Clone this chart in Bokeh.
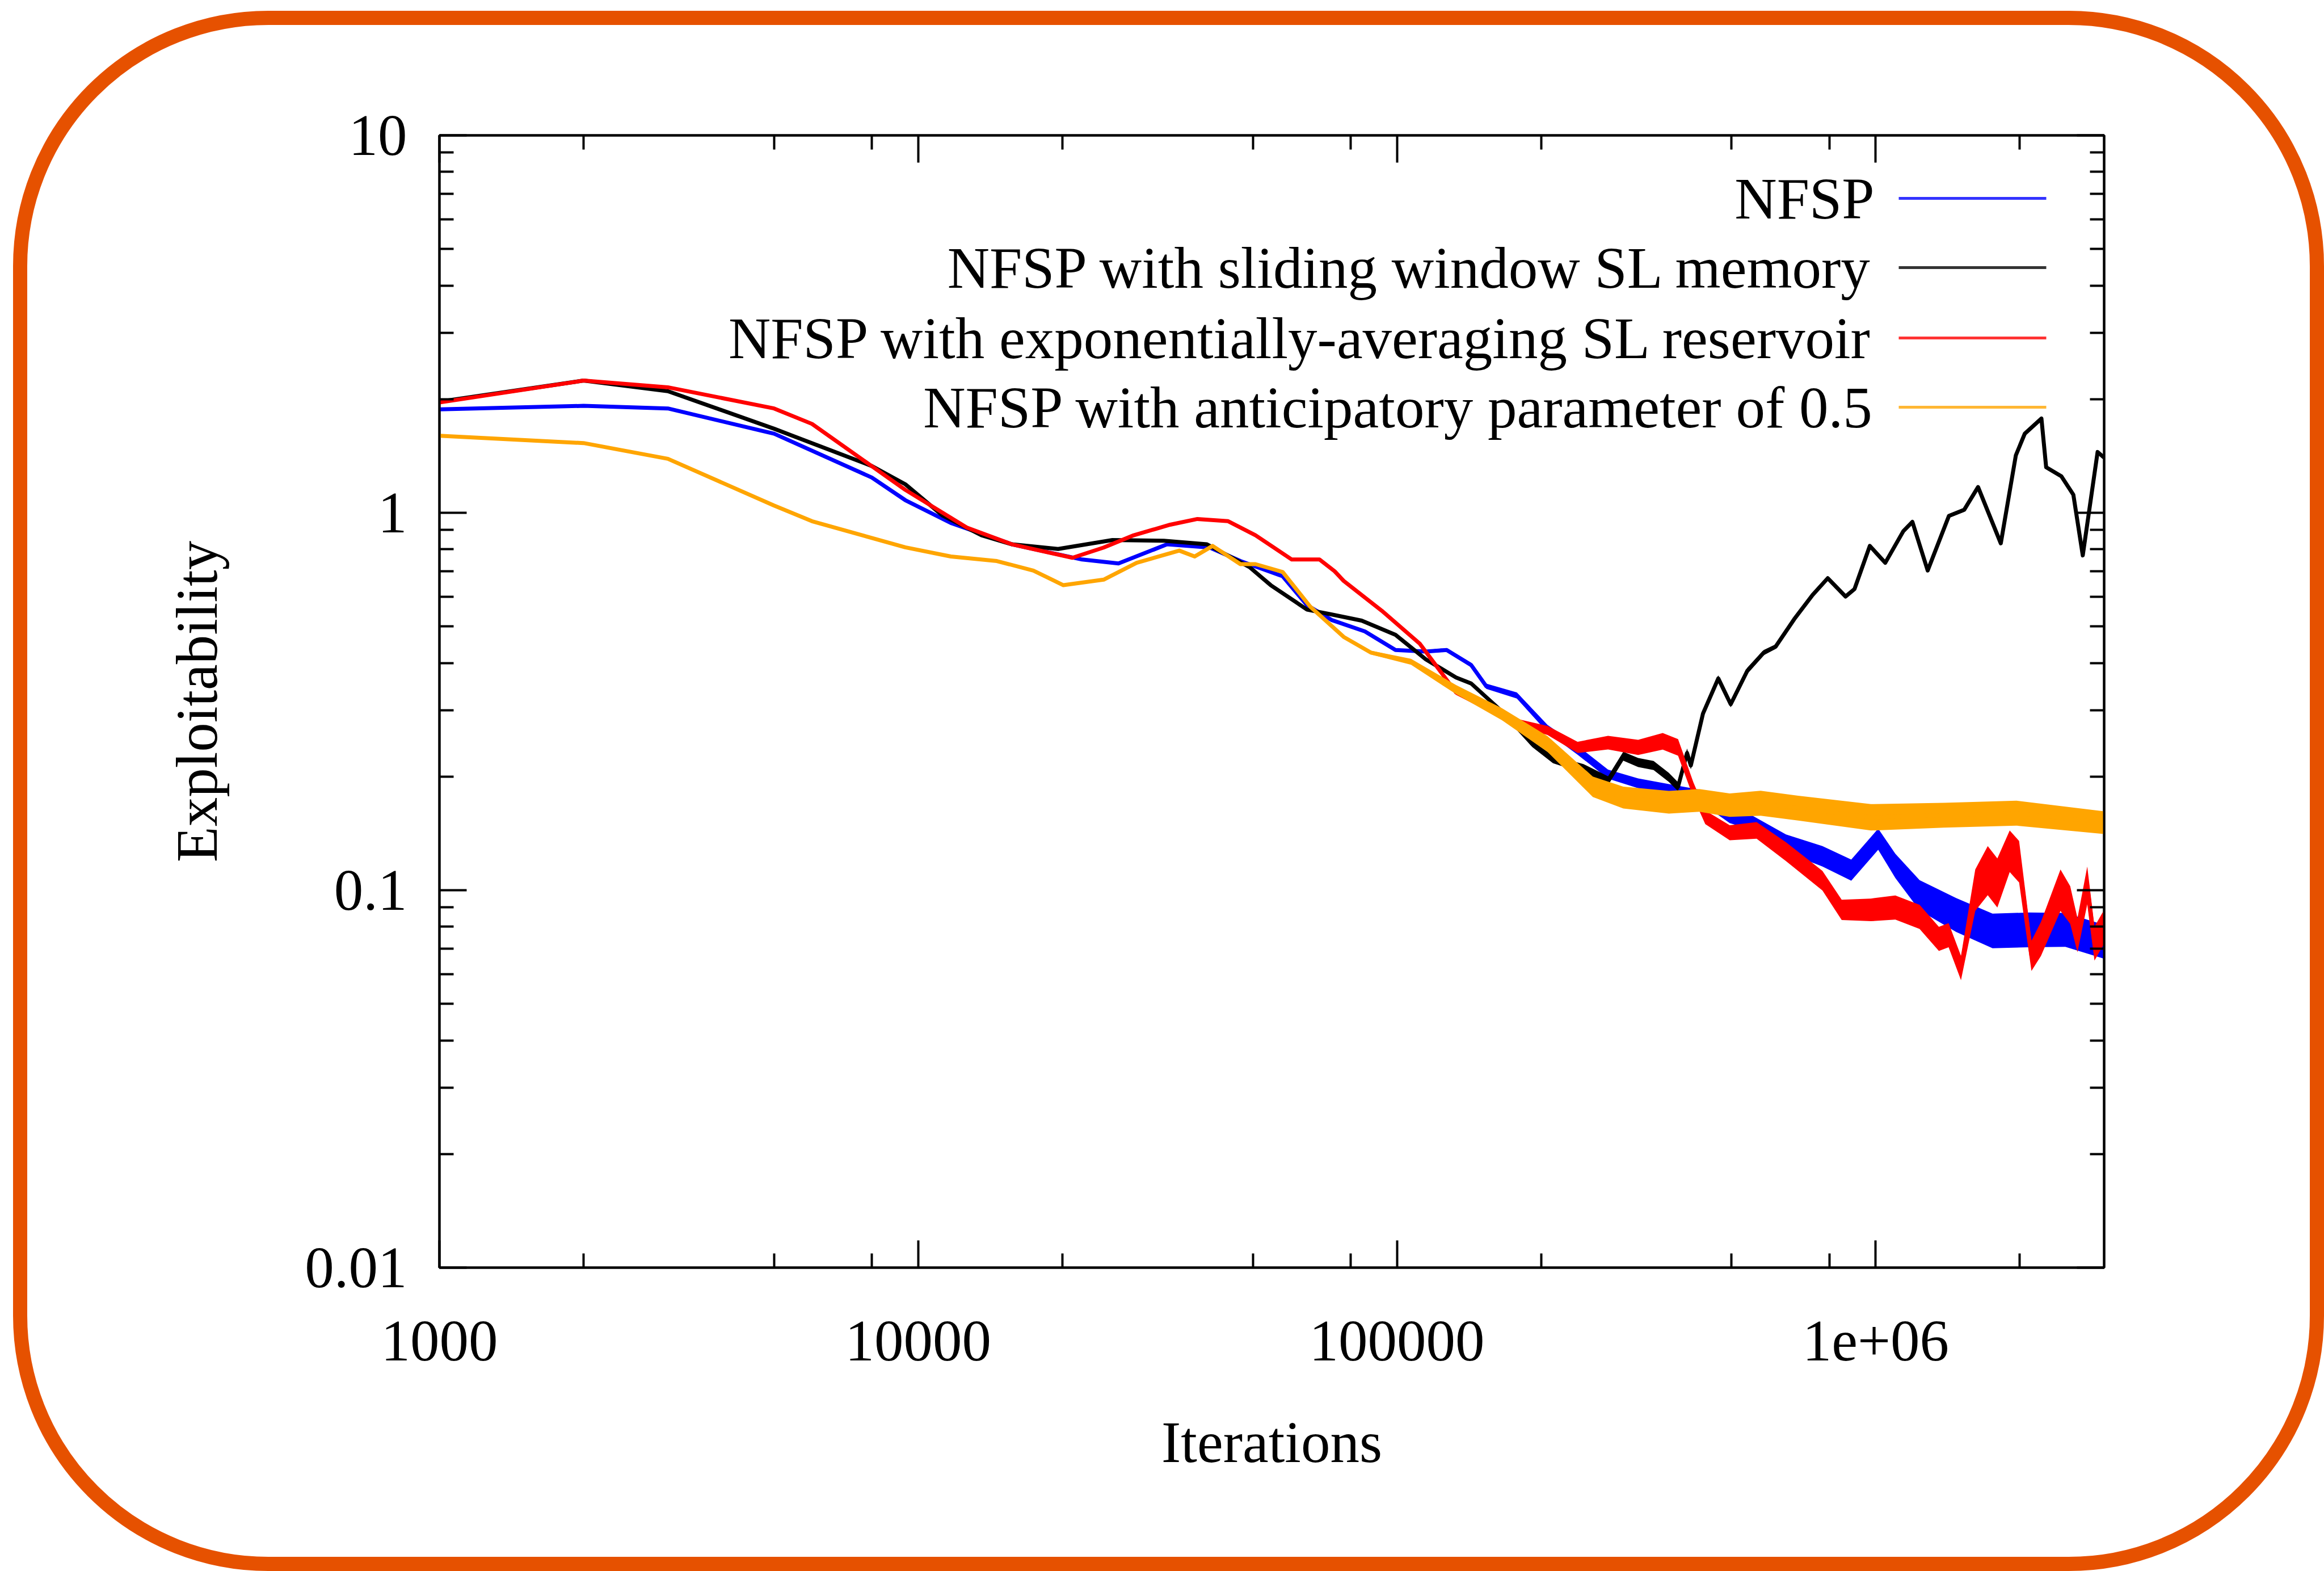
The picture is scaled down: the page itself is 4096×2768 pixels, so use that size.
from bokeh.plotting import figure
from bokeh.models import (LogAxis, FixedTicker, BoxAnnotation, Label, Range1d,
                          CustomJSTickFormatter)
from bokeh.embed import file_html
from bokeh.resources import INLINE

# ---------------- data ----------------
x_ticks = [1000, 10000, 100000, 1000000]
x_tick_labels = ["1000", "10000", "100000", "1e+06"]
x_minor_ticks = [2000, 5000, 8000, 20000, 50000, 80000, 200000, 500000, 800000, 2000000]
y_ticks = [0.01, 0.1, 1, 10]
y_tick_labels = ["0.01", "0.1", "1", "10"]
y_minor_ticks = [0.02, 0.03, 0.04, 0.05, 0.06, 0.07, 0.08, 0.09,
                 0.2, 0.3, 0.4, 0.5, 0.6, 0.7, 0.8, 0.9,
                 2, 3, 4, 5, 6, 7, 8, 9]

series_names = ["NFSP",
                "NFSP with sliding window SL memory",
                "NFSP with exponentially-averaging SL reservoir",
                "NFSP with anticipatory parameter of 0.5"]
series_colors = ["#0000ff", "#000000", "#ff0000", "#ffa500"]

nfsp_x = [1000, 2000, 3000, 5000, 8000, 9400, 11700, 15700, 22000, 26200, 33100, 40650,
          47100, 57700, 64900, 73000, 85700, 99300, 114900, 127000, 142900, 153700, 178000,
          206300, 238400, 276000, 319000, 369800, 428200, 495500, 545000, 649600, 774000,
          889000, 1012000, 1099000, 1235000, 1472000, 1754000, 2091000, 2489000, 3000000]
nfsp_y = [1.88, 1.92, 1.89, 1.62, 1.24, 1.08, 0.94, 0.825, 0.752, 0.734, 0.825, 0.809,
          0.745, 0.679, 0.569, 0.52, 0.485, 0.433, 0.429, 0.433, 0.395, 0.347, 0.328,
          0.268, 0.235, 0.203, 0.192, 0.185, 0.178, 0.157, 0.152, 0.133, 0.123,
          0.113, 0.1365, 0.116, 0.097, 0.086, 0.078, 0.0785, 0.0785, 0.073]
# half-width (in decades) of the noisy band around the curve
nfsp_noise = [0, 0, 0, 0, 0, 0, 0, 0, 0, 0, 0, 0,
              0, 0, 0, 0, 0, 0, 0.004, 0.005, 0.006, 0.007, 0.008,
              0.01, 0.012, 0.012, 0.013, 0.014, 0.016, 0.018, 0.02, 0.024, 0.027,
              0.028, 0.028, 0.032, 0.04, 0.045, 0.046, 0.046, 0.045, 0.045]

sliding_x = [1000, 2000, 3000, 5000, 8000, 9400, 11250, 13560, 15700, 19600, 25450, 32600,
             40100, 49200, 54500, 64900, 72900, 84400, 99300, 114900, 132900, 142900, 167900,
             191700, 211800, 245200, 276000, 297000, 319000, 343600, 369800, 386500, 403600,
             411000, 435800, 469000, 497900, 539000, 583600, 618000, 675700, 738000, 794000,
             865000, 903000, 972000, 1047000, 1142000, 1193000, 1284000, 1422000, 1530000,
             1636000, 1710000, 1825000, 1962000, 2048000, 2219000, 2270000, 2443000, 2587000,
             2707000, 2907000, 3000000]
sliding_y = [1.97, 2.24, 2.10, 1.67, 1.33, 1.19, 0.983, 0.872, 0.825, 0.802, 0.847, 0.843,
             0.825, 0.718, 0.643, 0.554, 0.538, 0.518, 0.475, 0.409, 0.366, 0.353, 0.293,
             0.244, 0.222, 0.210, 0.195, 0.2265, 0.218, 0.214, 0.199, 0.188, 0.231,
             0.214, 0.294, 0.364, 0.311, 0.381, 0.426, 0.442, 0.5225, 0.6055, 0.671,
             0.600, 0.628, 0.817, 0.737, 0.894, 0.946, 0.703, 0.981, 1.018,
             1.17, 1.018, 0.830, 1.42, 1.62, 1.777, 1.32, 1.249, 1.117,
             0.771, 1.449, 1.40]
sliding_noise = [0, 0, 0, 0, 0, 0, 0, 0, 0, 0, 0, 0,
                 0, 0, 0, 0, 0, 0, 0, 0, 0.004, 0.005, 0.006,
                 0.008, 0.01, 0.012, 0.012, 0.012, 0.012, 0.012, 0.012, 0.012, 0.012,
                 0.01, 0.01, 0.008, 0.008, 0.008, 0.007, 0.006, 0.005, 0.005, 0.005,
                 0.005, 0.005, 0.005, 0.005, 0.005, 0.005, 0.005, 0.005, 0.005,
                 0.005, 0.005, 0.005, 0.005, 0.005, 0.005, 0.005, 0.005, 0.005,
                 0.005, 0.005, 0.005]

reservoir_x = [1000, 2000, 3000, 5000, 6000, 9400, 12630, 15700, 21000, 24400, 28200, 33600,
               38300, 44400, 50650, 60300, 68900, 74100, 77400, 93000, 111600, 132900, 153700,
               178000, 206300, 238400, 276000, 319000, 359000, 386500, 416000, 440500, 495500,
               564000, 649600, 774000, 849000, 977000, 1099000, 1235000, 1355000, 1420000,
               1507000, 1614000, 1714000, 1795000, 1905000, 1993000, 2115000, 2214000,
               2432000, 2548000, 2639000, 2766000, 2864000, 3000000]
reservoir_y = [1.96, 2.24, 2.15, 1.89, 1.72, 1.15, 0.914, 0.825, 0.76, 0.809, 0.872, 0.93,
               0.963, 0.95, 0.872, 0.752, 0.752, 0.70, 0.66, 0.55, 0.45, 0.334, 0.305,
               0.278, 0.265, 0.239, 0.246, 0.239, 0.248, 0.239, 0.1845, 0.156, 0.142,
               0.144, 0.1265, 0.106, 0.0887, 0.0887, 0.090, 0.085, 0.0743, 0.076,
               0.0622, 0.100, 0.1127, 0.1045, 0.1268, 0.119, 0.067, 0.0743,
               0.100, 0.0914, 0.076, 0.103, 0.0722, 0.08]
reservoir_noise = [0, 0, 0, 0, 0, 0, 0, 0, 0, 0, 0, 0,
                   0, 0, 0, 0, 0, 0, 0, 0, 0, 0.006, 0.008,
                   0.01, 0.012, 0.015, 0.018, 0.02, 0.022, 0.022, 0.02, 0.018, 0.02,
                   0.022, 0.025, 0.026, 0.027, 0.03, 0.032, 0.032, 0.032, 0.032,
                   0.032, 0.055, 0.065, 0.065, 0.055, 0.055, 0.04, 0.045,
                   0.055, 0.05, 0.045, 0.05, 0.045, 0.045]

anticip_x = [1000, 2000, 3000, 5000, 6000, 9400, 11700, 14600, 17400, 20100, 24400, 28600,
             35100, 37800, 41200, 47100, 50650, 57700, 65900, 77400, 88300, 107000, 132900,
             165500, 206300, 256500, 297000, 369800, 428200, 495500, 575000, 688700, 977000,
             1387000, 1968000, 3000000]
anticip_y = [1.60, 1.53, 1.39, 1.045, 0.95, 0.81, 0.766, 0.745, 0.703, 0.643, 0.665, 0.737,
             0.794, 0.766, 0.817, 0.731, 0.731, 0.697, 0.564, 0.469, 0.426, 0.403, 0.340,
             0.293, 0.244, 0.188, 0.176, 0.171, 0.173, 0.168, 0.170, 0.165, 0.156,
             0.158, 0.160, 0.151]
anticip_noise = [0, 0, 0, 0, 0, 0, 0, 0, 0, 0, 0, 0,
                 0, 0, 0, 0, 0, 0, 0, 0, 0.005, 0.008, 0.012,
                 0.016, 0.021, 0.027, 0.029, 0.03, 0.03, 0.031, 0.033, 0.033, 0.035,
                 0.033, 0.033, 0.03]

series_x = [nfsp_x, sliding_x, reservoir_x, anticip_x]
series_y = [nfsp_y, sliding_y, reservoir_y, anticip_y]
series_noise = [nfsp_noise, sliding_noise, reservoir_noise, anticip_noise]

# ---------------- layout (pixels at 0.84 of the reference) ----------------
W, H = 4096, 2768
FONT = "Liberation Serif"
FS = "103px"

frame_css = """
:host::after {
  content: "";
  position: absolute;
  left: 23px;
  top: 19px;
  width: 4073px;
  height: 2749px;
  box-sizing: border-box;
  border: 25px solid #e65100;
  border-radius: 450px;
  pointer-events: none;
  z-index: 1000;
}
"""

p = figure(width=W, height=H, x_axis_type="log", y_axis_type="log",
           x_range=Range1d(1000, 3000000), y_range=Range1d(0.01, 10),
           output_backend="svg", toolbar_location=None,
           min_border_left=774, min_border_right=388,
           min_border_top=238, min_border_bottom=535,
           stylesheets=[frame_css])
p.background_fill_color = "white"
p.border_fill_color = "white"
p.xgrid.visible = False
p.ygrid.visible = False
p.outline_line_color = "black"
p.outline_line_width = 4

top_axis = LogAxis()
right_axis = LogAxis()
p.add_layout(top_axis, "above")
p.add_layout(right_axis, "right")

bottom_axis = p.below[0]
left_axis = p.left[0]

for ax in (bottom_axis, top_axis):
    ax.ticker = FixedTicker(ticks=x_ticks, minor_ticks=x_minor_ticks)
for ax in (left_axis, right_axis):
    ax.ticker = FixedTicker(ticks=y_ticks, minor_ticks=y_minor_ticks)

bottom_axis.major_label_overrides = dict(zip(x_ticks, x_tick_labels))
left_axis.major_label_overrides = dict(zip(y_ticks, y_tick_labels))
top_axis.formatter = CustomJSTickFormatter(code="return ''")
right_axis.formatter = CustomJSTickFormatter(code="return ''")

for ax in (bottom_axis, top_axis, left_axis, right_axis):
    ax.axis_line_color = "black"
    ax.axis_line_width = 4
    ax.major_tick_line_color = "black"
    ax.minor_tick_line_color = "black"
    ax.major_tick_line_width = 4
    ax.minor_tick_line_width = 4
    ax.major_tick_in = 48
    ax.major_tick_out = 0
    ax.minor_tick_in = 25
    ax.minor_tick_out = 0
    ax.major_label_text_font = FONT
    ax.major_label_text_font_size = FS
    ax.major_label_text_color = "black"

bottom_axis.major_label_standoff = 95
left_axis.major_label_standoff = 57

bottom_axis.axis_label = "Iterations"
left_axis.axis_label = "Exploitability"
for ax in (bottom_axis, left_axis):
    ax.axis_label_text_font = FONT
    ax.axis_label_text_font_size = FS
    ax.axis_label_text_font_style = "normal"
    ax.axis_label_text_color = "black"
bottom_axis.axis_label_standoff = 84
left_axis.axis_label_standoff = 130

# ---------------- data curves ----------------
for xs, ys, nz, col in zip(series_x, series_y, series_noise, series_colors):
    lo = [y / (10 ** n) for y, n in zip(ys, nz)]
    hi = [y * (10 ** n) for y, n in zip(ys, nz)]
    p.varea(x=xs, y1=lo, y2=hi, fill_color=col, fill_alpha=1.0)
    p.line(xs, ys, line_color=col, line_width=7, line_join="round")

# ---------------- legend (top right, text left of sample) ----------------
leg_text_right = 3303
leg_line_left, leg_line_right = 3346, 3606
leg_rows = [349, 471, 595, 717]
for name, col, cy in zip(series_names, series_colors, leg_rows):
    p.add_layout(Label(x=leg_text_right, y=cy, x_units="canvas", y_units="canvas",
                       text=name, text_align="right", text_baseline="middle",
                       text_font=FONT, text_font_size=FS, text_color="black"))
    p.add_layout(BoxAnnotation(left=leg_line_left, right=leg_line_right,
                               top=cy - 2.5, bottom=cy + 2.5,
                               left_units="canvas", right_units="canvas",
                               top_units="canvas", bottom_units="canvas",
                               fill_color=col, fill_alpha=0.8, line_color=None))

open("out.html", "w").write(file_html(p, INLINE, title="Exploitability"))
